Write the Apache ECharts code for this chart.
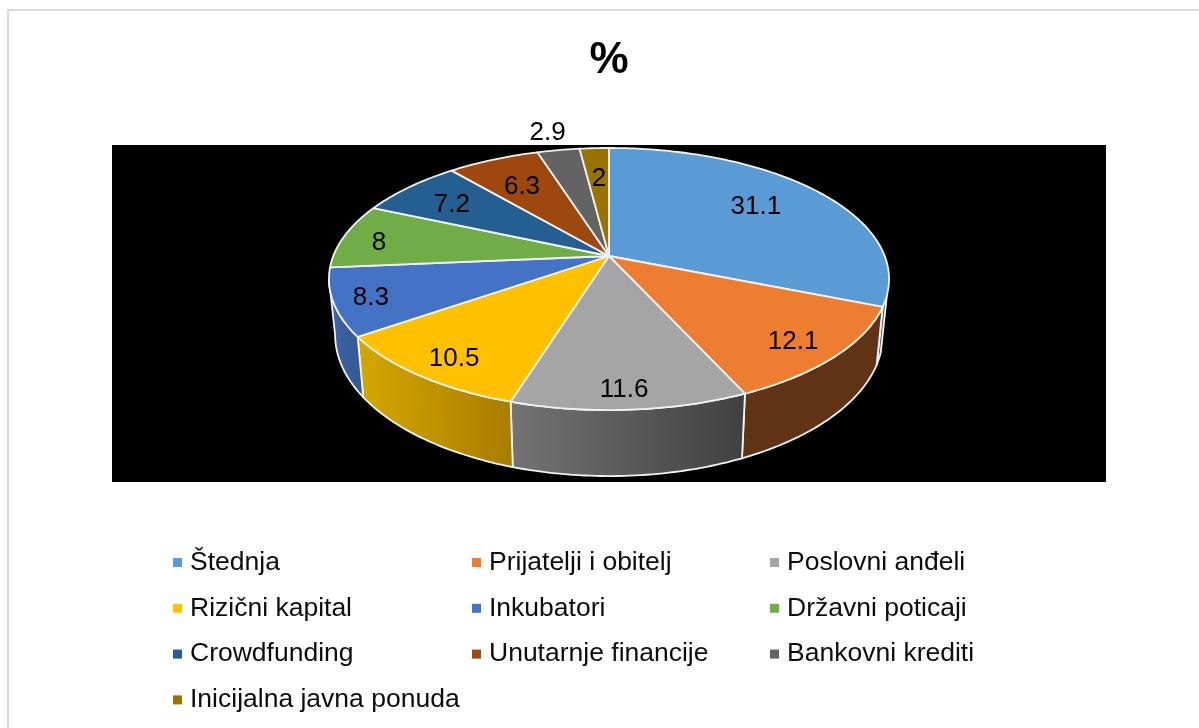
<!DOCTYPE html>
<html><head><meta charset="utf-8">
<style>html,body{margin:0;padding:0;background:#fff}#c{width:1199px;height:728px}</style>
<script src="https://cdn.jsdelivr.net/npm/echarts@6/dist/echarts.min.js"></script>
</head><body><div id="c"></div>
<script>
const categories = ['Štednja','Prijatelji i obitelj','Poslovni anđeli','Rizični kapital','Inkubatori','Državni poticaji','Crowdfunding','Unutarnje financije','Bankovni krediti','Inicijalna javna ponuda'];
const values = [31.1,12.1,11.6,10.5,8.3,8,7.2,6.3,2.9,2];
const topColors = ['#5b9bd5','#ed7d31','#a5a5a5','#ffc000','#4472c4','#70ad47','#255e91','#9e480e','#636363','#997300'];
const sideLeft  = ['#3d6a96','#5f3314','#747474','#d4a800','#3d66ad','#4f7a32','#1a4266','#6f330a','#464646','#6b5100'];
const sideRight = ['#33587c','#5f3314','#404040','#a87c00','#33578f','#4f7a32','#1a4266','#6f330a','#464646','#6b5100'];
const labelRadius = [0.718,0.842,0.88,0.855,0.871,0.86,0.762,0.712,1.22,0.70];
const labelAngleFrac = [0.473,0.523,0.514,0.474,0.5,0.45,0.48,0.48,0.47,0.54];

// Projection of the tilted disc: apex, radii, perspective, depth
const AX=609, AY=256, RX=275.7, RY=127, K=0.1756;
const BOT_SX=0.978, BOT_SY=1.078, BOT_DY=54;
const VIS_FROM=107, VIS_TO=259.9;
const total = values.reduce((a,b)=>a+b,0);
let acc=0; const starts=values.map(v=>{const s=acc; acc+=v; return s/total*360;});

function topRim(deg,f=1){const t=deg*Math.PI/180,u=f*Math.sin(t),v=-f*Math.cos(t),w=1-K*v;
  return [AX+RX*u/w, AY+RY*v/w];}
function botRim(deg){const p=topRim(deg);
  return [AX+(p[0]-AX)*BOT_SX, AY+BOT_DY+(p[1]-AY)*BOT_SY];}
function arc(fn,a,b){const n=Math.max(2,Math.ceil(Math.abs(b-a)));const r=[];
  for(let i=0;i<=n;i++) r.push(fn(a+(b-a)*i/n));return r;}

function renderSlice(params,api){
  const i=params.seriesIndex, val=api.value(0), a=starts[i], b=a+val/total*360;
  const children=[];
  const s=Math.max(a,VIS_FROM), e=Math.min(b,VIS_TO);
  if(e>s){
    children.push({type:'polygon',shape:{points:arc(topRim,s,e).concat(arc(botRim,e,s))},
      style:{fill:{type:'linear',x:0,y:0,x2:1,y2:0,colorStops:[{offset:0,color:sideLeft[i]},{offset:1,color:sideRight[i]}]},
      stroke:'#f2f2f2',lineWidth:1.8,lineJoin:'round'}});
  }
  children.push({type:'polygon',shape:{points:[[AX,AY]].concat(arc(topRim,a,b))},
    style:{fill:topColors[i],stroke:'#f2f2f2',lineWidth:1.8,lineJoin:'round'}});
  const lp=topRim(a+(b-a)*labelAngleFrac[i],labelRadius[i]);
  children.push({type:'text',z2:10,x:lp[0],y:lp[1]+2,style:{text:String(val),fill:'#000',
    font:'26px "Liberation Sans"',align:'center',verticalAlign:'middle'}});
  return {type:'group',children};
}

const columns=[[0,3,6,9],[1,4,7],[2,5,8]];
const columnLeft=[168,467,765];
const chart=echarts.init(document.getElementById('c'),null,{renderer:'canvas'});
chart.setOption({
  animation:false,
  backgroundColor:'#fff',
  title:{text:'%',left:584.5,top:34,
    textStyle:{fontFamily:'Liberation Sans',fontSize:44,fontWeight:'bold',color:'#000'}},
  grid:{show:true,left:112,top:145,width:994,height:337,backgroundColor:'#000',borderWidth:0},
  xAxis:{show:false,type:'value'},
  yAxis:{show:false,type:'value'},
  graphic:[{type:'rect',shape:{x:8,y:10,width:1300,height:900},style:{fill:'none',stroke:'#d9d9d9',lineWidth:2},silent:true,z:-1}],
  legend:columns.map((c,k)=>({
    show:true,orient:'vertical',left:columnLeft[k],top:544,itemGap:18.8,itemWidth:9,itemHeight:9,icon:'rect',
    data:c.map(i=>categories[i]),selectedMode:false,
    textStyle:{fontFamily:'Liberation Sans',fontSize:26.5,color:'#0d0d0d',padding:[0,0,0,3]}
  })),
  series:categories.map((name,i)=>({
    type:'custom',name,coordinateSystem:'none',silent:true,
    itemStyle:{color:topColors[i]},
    renderItem:renderSlice,
    data:[{name,value:[values[i]]}]
  }))
});
</script></body></html>
